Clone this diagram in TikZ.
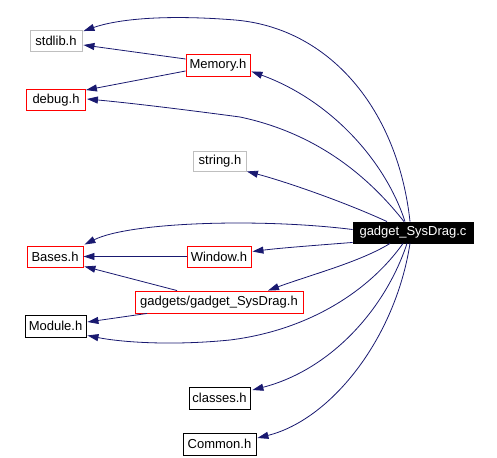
\documentclass[tikz,border=0pt]{standalone}
\usepackage{fontspec}
\setmainfont{Liberation Sans}
\usetikzlibrary{arrows.meta,calc}
\definecolor{edgeblue}{HTML}{191970}
\definecolor{boxgray}{HTML}{BFBFBF}
\definecolor{boxred}{HTML}{FF0000}
\tikzset{
  box/.style={draw, line width=0.9pt, inner sep=0pt, minimum height=21pt, font=\fontsize{13}{15}\selectfont},
  graybox/.style={box, draw=boxgray},
  redbox/.style={box, draw=boxred},
  blackbox/.style={box, draw=black},
  mainbox/.style={box, draw=black, fill=black, text=white},
  dep/.style={draw=edgeblue, line width=0.8pt, -{Triangle[length=11pt,width=7pt]}, color=edgeblue}
}
\begin{document}
\begin{tikzpicture}[x=1pt,y=-1pt]
\useasboundingbox (0,0) rectangle (497,457);
\node[graybox, minimum width=52pt] (stdlib) at (56,41) {stdlib.h};
\node[redbox, minimum width=64pt, minimum height=22pt] (memory) at (218,65) {Memory.h};
\node[redbox, minimum width=59pt] (debug) at (56,100) {debug.h};
\node[graybox, minimum width=53pt, minimum height=20pt] (string) at (220,161) {string.h};
\node[mainbox, minimum width=120pt] (c) at (413,232.5) {gadget\_SysDrag.c};
\node[redbox, minimum width=64pt] (window) at (219,256.5) {Window.h};
\node[redbox, minimum width=56pt] (bases) at (55,256.5) {Bases.h};
\node[redbox, minimum width=168pt, minimum height=22pt] (gsd) at (219,302) {gadgets/gadget\_SysDrag.h};
\node[blackbox, minimum width=61pt, minimum height=22pt] (module) at (55.5,326) {Module.h};
\node[blackbox, minimum width=61pt, minimum height=22pt] (classes) at (219.5,398) {classes.h};
\node[blackbox, minimum width=73pt, minimum height=22pt] (common) at (219.5,444) {Common.h};

% from gadget_SysDrag.c
\draw[dep] ($(c.north)+(-3,0)$) .. controls (398,110) and (330,28) .. (235,20) .. controls (160,14) and (115,20) .. ($(stdlib.north east)+(1,1)$);
\draw[dep] ($(c.north)+(-8,0)$) .. controls (385,160) and (330,100) .. ($(memory.south east)+(1,-5)$);
\draw[dep] ($(c.north)+(-9,0)$) .. controls (375,185) and (325,135) .. (240,117) .. controls (180,109) and (130,103) .. ($(debug.east)+(1,-1)$);
\draw[dep] ($(c.north)+(-26,0)$) .. controls (340,200) and (280,180) .. ($(string.south east)+(0,0)$);
\draw[dep] ($(c.west)+(0,-3)$) .. controls (260,218) and (130,222) .. ($(bases.north east)+(1,-1)$);
\draw[dep] ($(c.south west)+(0,-1)$) .. controls (320,245) and (280,248) .. ($(window.east)+(1,-5)$);
\draw[dep] ($(c.south)+(-23,0)$) .. controls (360,262) and (310,275) .. ($(gsd.north)+(49,0)$);
\draw[dep] ($(c.south)+(-10,0)$) .. controls (370,290) and (310,330) .. (230,340) .. controls (170,346) and (120,342) .. ($(module.south east)+(1,-2)$);
\draw[dep] ($(c.south)+(-6,0)$) .. controls (385,310) and (330,370) .. ($(classes.east)+(2,-8)$);
\draw[dep] ($(c.south)+(-3,0)$) .. controls (395,340) and (330,420) .. ($(common.east)+(1,-6)$);

% other dependencies
\draw[dep] ($(memory.west)+(0,-6)$) -- ($(stdlib.east)+(1,4)$);
\draw[dep] ($(memory.west)+(0,6)$) -- ($(debug.north east)+(0,1)$);
\draw[dep] (window.west) -- (bases.east);
\draw[dep] ($(gsd.north)+(-42,0)$) -- ($(bases.south east)+(1,-1)$);
\draw[dep] ($(gsd.south)+(-72,0)$) -- ($(module.east)+(1,-4)$);
\end{tikzpicture}
\end{document}
